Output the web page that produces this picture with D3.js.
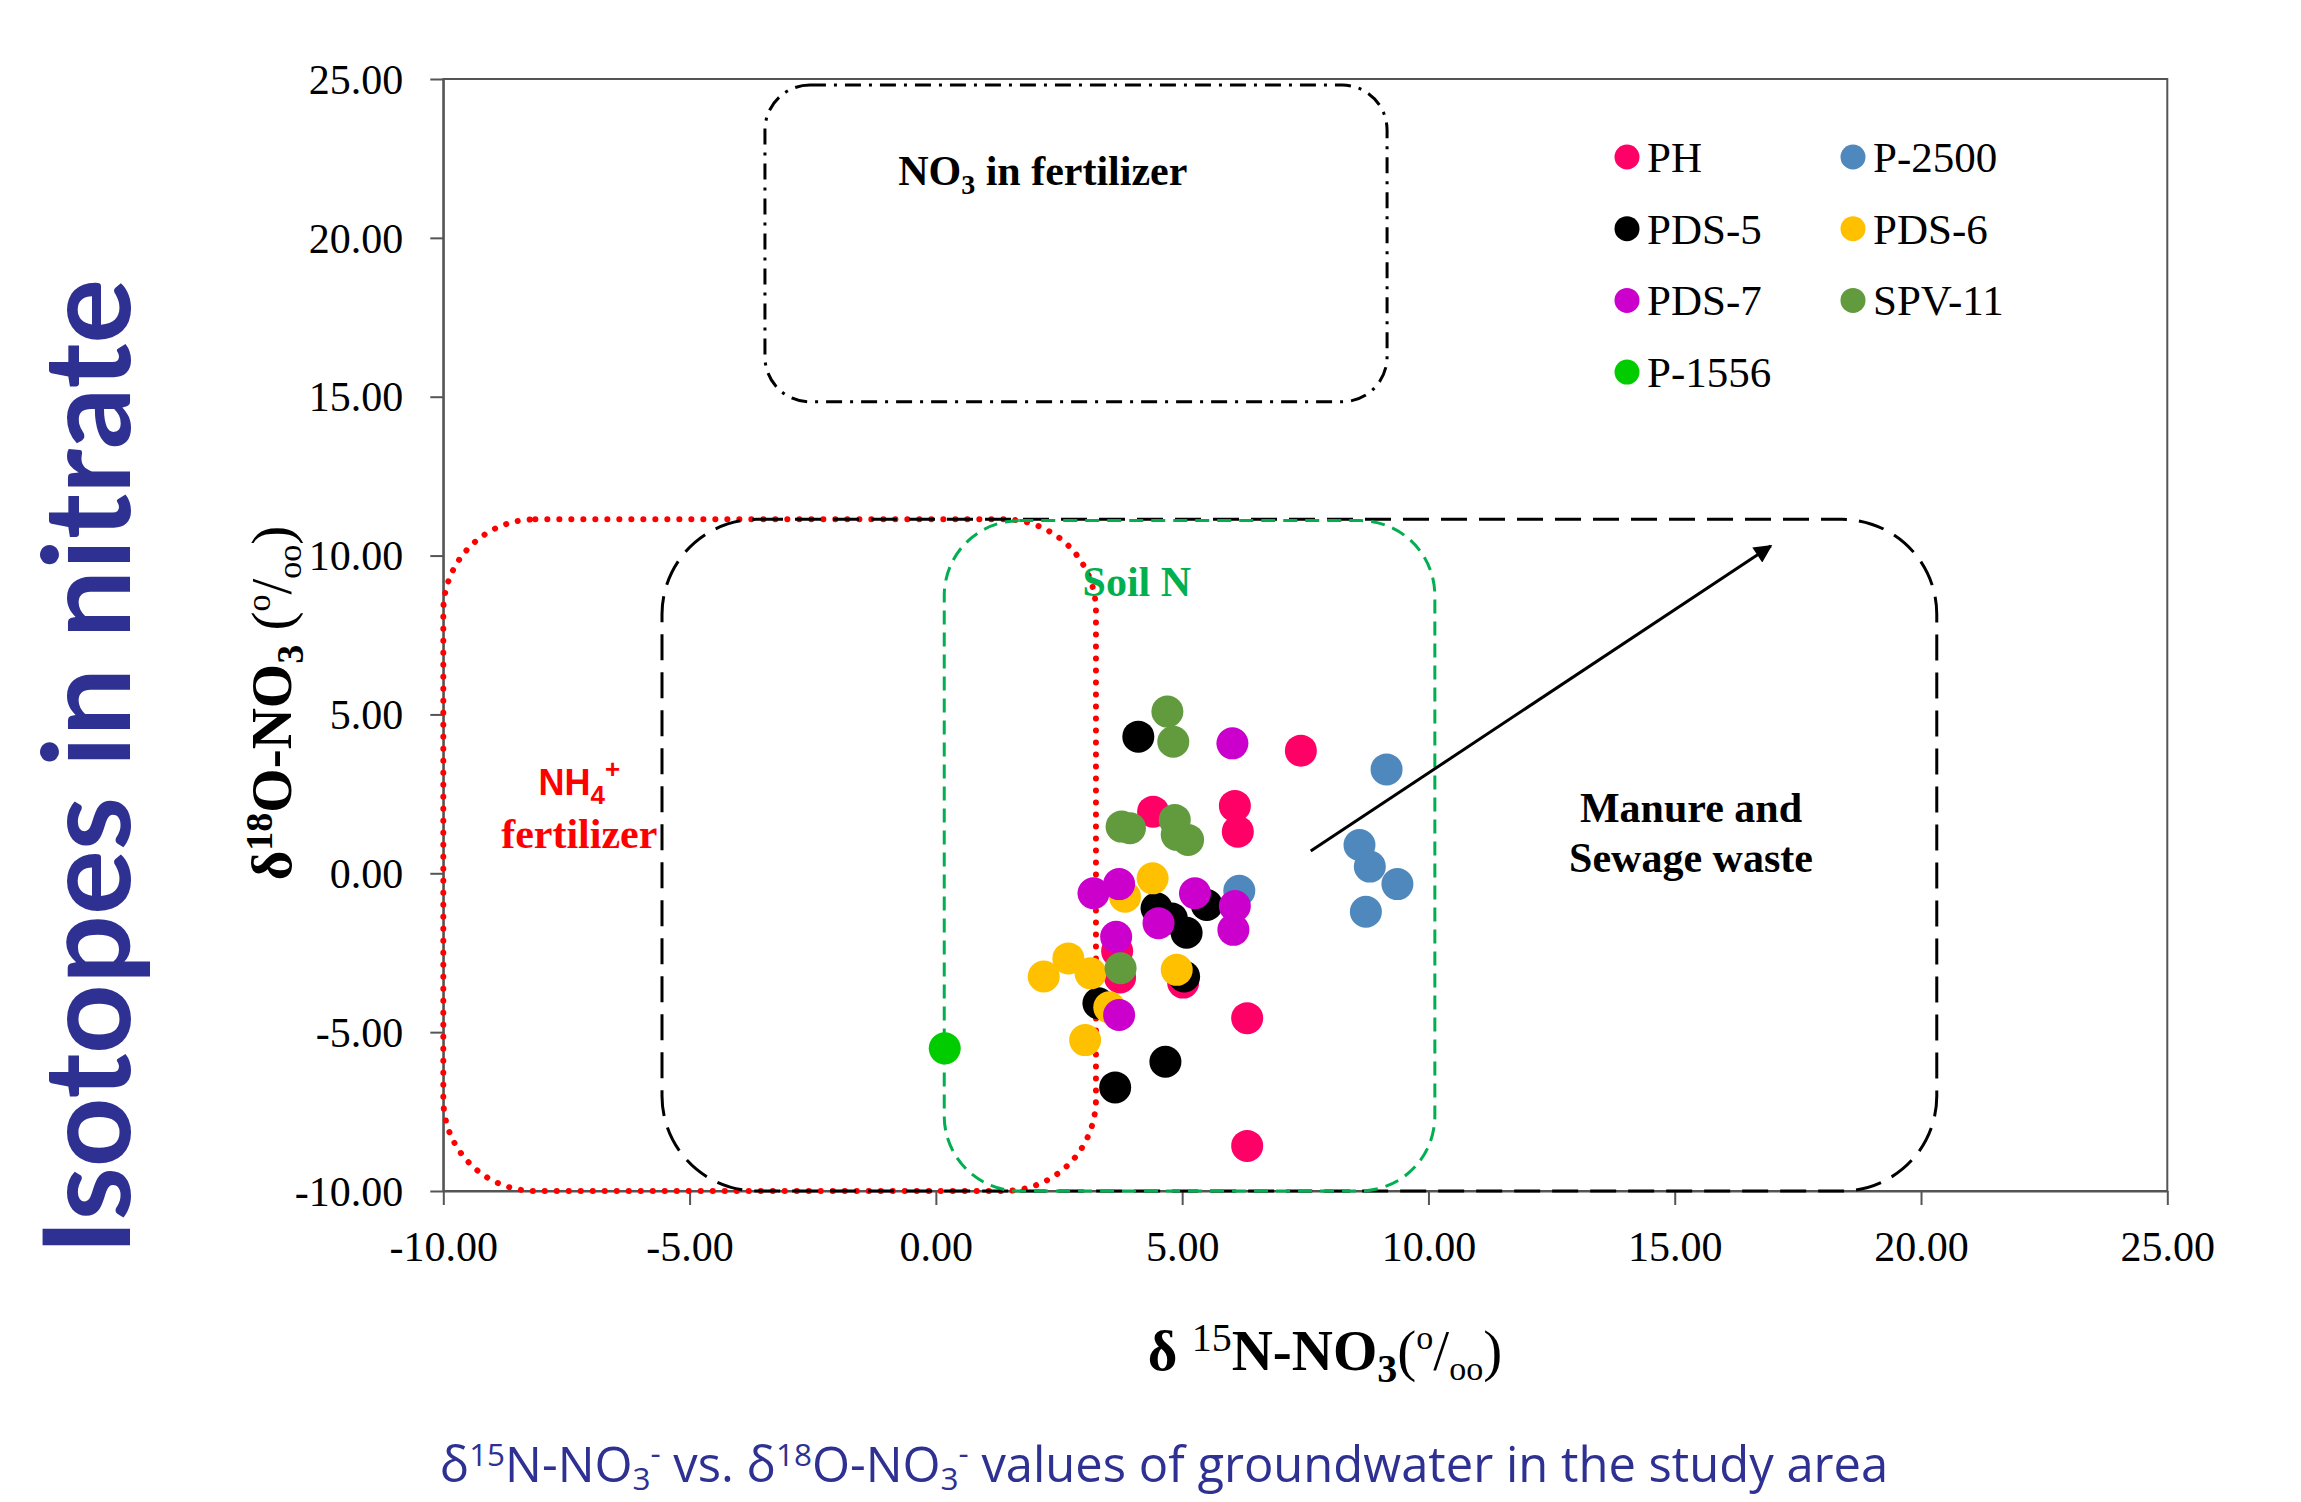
<!DOCTYPE html>
<html><head><meta charset="utf-8">
<script src="https://cdn.jsdelivr.net/npm/d3@7"></script>
<style>body{margin:0;background:#fff}svg{display:block}</style>
</head><body>
<svg id="c" width="2301" height="1502"></svg>
<script>
// ---------- data ----------
const xTicks = [-10, -5, 0, 5, 10, 15, 20, 25];
const yTicks = [-10, -5, 0, 5, 10, 15, 20, 25];
const seriesNames = ["PH", "P-2500", "PDS-5", "PDS-6", "PDS-7", "SPV-11", "P-1556"];
const seriesColors = ["#FF0066", "#4F88BC", "#000000", "#FFC000", "#CC00CC", "#629A3E", "#00CC00"];
const phX = [7.41, 4.41, 6.07, 6.13, 3.68, 3.74, 5.02, 6.32, 6.32];
const phY = [3.86, 1.94, 2.12, 1.31, -2.45, -3.28, -3.44, -4.56, -8.58];
const p2500X = [9.15, 8.60, 8.81, 9.37, 8.73, 6.16];
const p2500Y = [3.27, 0.89, 0.21, -0.34, -1.21, -0.55];
const pds5X = [4.11, 4.48, 4.79, 5.09, 5.50, 5.04, 3.30, 4.66, 3.64];
const pds5Y = [4.30, -1.10, -1.42, -1.87, -1.00, -3.25, -4.09, -5.93, -6.74];
const pds6X = [4.40, 3.84, 2.69, 2.19, 3.14, 4.89, 3.52, 3.03];
const pds6Y = [-0.16, -0.74, -2.68, -3.25, -3.15, -3.04, -4.22, -5.25];
const pds7X = [6.02, 3.20, 3.72, 5.26, 6.07, 4.52, 6.04, 3.66, 3.72];
const pds7Y = [4.09, -0.63, -0.34, -0.63, -1.03, -1.57, -1.78, -2.00, -4.46];
const spv11X = [4.70, 4.82, 3.77, 3.94, 4.85, 4.89, 5.12, 3.75];
const spv11Y = [5.09, 4.14, 1.47, 1.42, 1.68, 1.21, 1.05, -2.99];
const p1556X = [0.18];
const p1556Y = [-5.51];
// source regions (data units): [x0, x1, y0, y1]
const regionNames = ["NO3 fertilizer", "NH4 fertilizer", "Manure and Sewage", "Soil N"];
const regionBounds = [[-3.47, 9.16, 14.84, 24.81], [-10, 3.25, -10, 11.14], [-5.56, 20.32, -10, 11.14], [0.17, 10.13, -10, 11.10]];
const arrowFrom = [7.61, 0.70];
const arrowTo = [16.95, 10.30];

// ---------- build ----------
const seriesX = [phX, p2500X, pds5X, pds6X, pds7X, spv11X, p1556X];
const seriesY = [phY, p2500Y, pds5Y, pds6Y, pds7Y, spv11Y, p1556Y];
const series = seriesNames.map((n, i) => ({name: n, color: seriesColors[i],
  pts: seriesX[i].map((x, j) => ({x: x, y: seriesY[i][j]}))}));

const svg = d3.select("#c");
const L = 443.3, R = 2167.3, T = 79, B = 1191;
const x = d3.scaleLinear().domain([-10, 25]).range([L, R]);
const y = d3.scaleLinear().domain([-10, 25]).range([B, T]);
const serif = "'Liberation Serif','Times New Roman',serif";
const axisColor = "#555";

// frame
svg.append("rect").attr("x", L).attr("y", T).attr("width", R - L).attr("height", B - T)
  .attr("fill", "none").attr("stroke", axisColor).attr("stroke-width", 2);

// axes
const f2 = d3.format(".2f");
const fmt = d => f2(d).replace("\u2212", "-");
const gx = svg.append("g").attr("transform", `translate(0,${B})`)
  .call(d3.axisBottom(x).tickValues(xTicks).tickFormat(fmt).tickSize(14).tickSizeOuter(0).tickPadding(26));
const gy = svg.append("g").attr("transform", `translate(${L},0)`)
  .call(d3.axisLeft(y).tickValues(yTicks).tickFormat(fmt).tickSize(13).tickSizeOuter(0).tickPadding(27));
[gx, gy].forEach(g => {
  g.select(".domain").attr("stroke", axisColor).attr("stroke-width", 2);
  g.selectAll(".tick line").attr("stroke", axisColor).attr("stroke-width", 2);
  g.selectAll(".tick text").attr("fill", "#000").style("font-family", serif).style("font-size", "42px");
});
gy.selectAll(".tick text").attr("dy", "0.34em");

// regions
const regionStyles = [
  {stroke: "#000", width: 3, dash: "16,8,3,8", rx: 45, cap: "butt"},
  {stroke: "#FF0000", width: 6, dash: "0.1,11.9", rx: 92, cap: "round"},
  {stroke: "#000", width: 3, dash: "26,12", rx: 95, cap: "butt"},
  {stroke: "#00B050", width: 3, dash: "14,8", rx: 75, cap: "butt"}
];
regionBounds.forEach((b, i) => {
  const s = regionStyles[i];
  svg.append("rect").attr("class", "region").attr("data-name", regionNames[i])
    .attr("x", x(b[0])).attr("y", y(b[3]))
    .attr("width", x(b[1]) - x(b[0])).attr("height", y(b[2]) - y(b[3]))
    .attr("rx", s.rx).attr("ry", s.rx)
    .attr("fill", "none").attr("stroke", s.stroke).attr("stroke-width", s.width)
    .attr("stroke-dasharray", s.dash).attr("stroke-linecap", s.cap);
});

// arrow
svg.append("defs").append("marker").attr("id", "ah").attr("viewBox", "0 0 10 10")
  .attr("refX", 9).attr("refY", 5).attr("markerWidth", 7).attr("markerHeight", 6)
  .attr("markerUnits", "strokeWidth").attr("orient", "auto")
  .append("path").attr("d", "M0,0 L10,5 L0,10 z").attr("fill", "#000");
svg.append("line").attr("x1", x(arrowFrom[0])).attr("y1", y(arrowFrom[1]))
  .attr("x2", x(arrowTo[0])).attr("y2", y(arrowTo[1]))
  .attr("stroke", "#000").attr("stroke-width", 3).attr("marker-end", "url(#ah)");

// region labels
function label(xv, yv, parts, opts) {
  const t = svg.append("text").attr("x", x(xv)).attr("y", y(yv))
    .attr("text-anchor", opts.anchor || "middle").attr("fill", opts.fill || "#000")
    .style("font-family", opts.family || serif).style("font-size", (opts.size || 42) + "px")
    .style("font-weight", opts.weight || "bold");
  parts.forEach(p => {
    const ts = t.append("tspan").text(p.t);
    if (p.dy) ts.attr("dy", p.dy);
    if (p.fs) ts.style("font-size", p.fs + "px");
    if (p.fw) ts.style("font-weight", p.fw);
  });
  return t;
}
label(2.17, 21.67, [{t: "NO"}, {t: "3", fs: 28, dy: 9}, {t: " in fertilizer", dy: -9}], {});
label(4.08, 8.73, [{t: "Soil N"}], {fill: "#00B050"});
label(-7.24, 2.46, [{t: "NH"}, {t: "4", fs: 26, dy: 9}, {t: "+", fs: 26, dy: -26}],
  {fill: "#FF0000", family: "'Liberation Sans',Arial,sans-serif", size: 36});
label(-7.24, 0.80, [{t: "fertilizer"}], {fill: "#FF0000"});
label(15.33, 1.61, [{t: "Manure and"}], {});
label(15.33, 0.04, [{t: "Sewage waste"}], {});

// points
series.forEach(s => {
  svg.append("g").attr("class", "series").selectAll("circle").data(s.pts).join("circle")
    .attr("cx", d => x(d.x)).attr("cy", d => y(d.y)).attr("r", 16).attr("fill", s.color);
});

// legend
const lg = svg.append("g");
seriesNames.forEach((n, i) => {
  const col = i % 2, row = Math.floor(i / 2);
  const cx = 1627 + col * 226, cy = 157 + row * 71.7;
  lg.append("circle").attr("cx", cx).attr("cy", cy).attr("r", 12.5).attr("fill", seriesColors[i]);
  lg.append("text").attr("x", cx + 20).attr("y", cy + 15).text(n)
    .style("font-family", serif).style("font-size", "43px").attr("fill", "#000");
});

// axis titles
function richTitle(sel, parts) {
  parts.forEach(p => {
    const ts = sel.append("tspan").text(p.t);
    if (p.dy) ts.attr("dy", p.dy);
    if (p.fs) ts.style("font-size", p.fs + "px");
    if (p.fw) ts.style("font-weight", p.fw);
  });
}
const xt = svg.append("text").attr("x", 1325).attr("y", 1370).attr("text-anchor", "middle")
  .style("font-family", serif).style("font-size", "57px").style("font-weight", "bold");
richTitle(xt, [{t: "δ "}, {t: "15", fs: 40, dy: -19, fw: "normal"}, {t: "N-NO", dy: 19}, {t: "3", fs: 40, dy: 12},
 {t: "(", dy: -12, fw: "normal"}, {t: "o", fs: 34, dy: -21, fw: "normal"}, {t: "/", dy: 21, fw: "normal"},
 {t: "oo", fs: 34, dy: 10, fw: "normal"}, {t: ")", dy: -10, fw: "normal"}]);
const yt = svg.append("text").attr("transform", "translate(291,703) rotate(-90)").attr("text-anchor", "middle")
  .style("font-family", serif).style("font-size", "57px").style("font-weight", "bold");
richTitle(yt, [{t: "δ"}, {t: "18", fs: 38, dy: -19}, {t: "O-NO", dy: 19}, {t: "3", fs: 38, dy: 12},
 {t: " (", dy: -12, fw: "normal"}, {t: "o", fs: 34, dy: -21, fw: "normal"}, {t: "/", dy: 21, fw: "normal"},
 {t: "oo", fs: 34, dy: 10, fw: "normal"}, {t: ")", dy: -10, fw: "normal"}]);

// big title
const navy = "#2E3192";
svg.append("text").attr("transform", "translate(130,767) rotate(-90)").attr("text-anchor", "middle")
  .attr("textLength", 976).attr("lengthAdjust", "spacingAndGlyphs")
  .style("font-family", "Lato,'Open Sans',sans-serif").style("font-size", "120px").style("font-weight", "bold")
  .attr("fill", navy).text("Isotopes in nitrate");

// caption
const cap = svg.append("text").attr("x", 1164).attr("y", 1482).attr("text-anchor", "middle")
  .style("font-family", "'Open Sans','Noto Sans',sans-serif").style("font-size", "42px").attr("fill", navy);
[{t: "δ"}, {t: "15", fs: 27, dy: -16}, {t: "N-NO", dy: 16}, {t: "3", fs: 27, dy: 8}, {t: "-", fs: 27, dy: -26},
 {t: " vs. δ", dy: 18}, {t: "18", fs: 27, dy: -16}, {t: "O-NO", dy: 16}, {t: "3", fs: 27, dy: 8}, {t: "-", fs: 27, dy: -26},
 {t: " values of groundwater in the study area", dy: 18}].forEach(p => {
  const ts = cap.append("tspan").text(p.t);
  if (p.dy) ts.attr("dy", p.dy);
  if (p.fs) ts.style("font-size", p.fs + "px");
});
const w = cap.node().getComputedTextLength();
if (w > 0) {
  const k = 1449 / w;
  cap.style("font-size", (42 * k) + "px");
  cap.selectAll("tspan").each(function() {
    const fs = this.style.fontSize;
    if (fs) d3.select(this).style("font-size", (parseFloat(fs) * k) + "px");
  });
}
</script>
</body></html>
